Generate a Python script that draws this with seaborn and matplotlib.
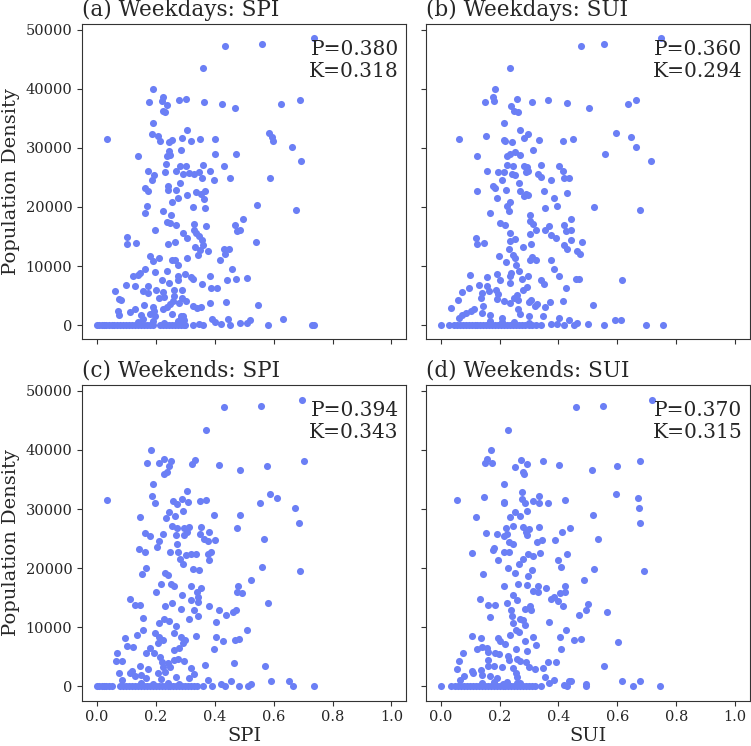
import pandas as pd
import matplotlib
matplotlib.use("Agg")
import matplotlib.pyplot as plt
import seaborn as sns

# points: (index value, population density)
wd_spi = [
    (0.736, 48530), (0.435, 47290), (0.562, 47520), (0.360, 43460), (0.192, 39970), (0.176, 37830),
    (0.224, 38570), (0.220, 37890), (0.238, 37210), (0.225, 36310), (0.232, 36030), (0.280, 38120),
    (0.303, 38280), (0.363, 37720), (0.425, 37500), (0.470, 36710), (0.624, 37380), (0.689, 38120),
    (0.189, 34290), (0.305, 32990), (0.035, 31580), (0.188, 32320), (0.207, 32090), (0.215, 31080),
    (0.246, 30910), (0.256, 31360), (0.288, 31750), (0.320, 31130), (0.350, 31420), (0.400, 31530),
    (0.586, 32490), (0.593, 31810), (0.599, 31080), (0.662, 30230), (0.286, 29670), (0.245, 29390),
    (0.237, 28660), (0.250, 28830), (0.139, 28660), (0.402, 28990), (0.472, 28990), (0.693, 27700),
    (0.236, 27250), (0.281, 26970), (0.304, 26970), (0.360, 27020), (0.431, 26860),
    (0.173, 26010), (0.193, 25450), (0.188, 24490), (0.231, 25840), (0.268, 26010), (0.292, 25500),
    (0.313, 25730), (0.329, 25620), (0.346, 25840), (0.385, 26010), (0.356, 24880), (0.399, 24550),
    (0.451, 24880), (0.588, 24940), (0.165, 23200), (0.174, 22630), (0.241, 23590), (0.241, 22800),
    (0.268, 22910), (0.282, 24040), (0.305, 22070), (0.338, 22460), (0.353, 22240), (0.368, 22630),
    (0.364, 21390), (0.277, 21510), (0.255, 20830), (0.171, 20210), (0.164, 18970), (0.223, 19250),
    (0.251, 18690), (0.327, 19930), (0.368, 19760), (0.544, 20270), (0.675, 19480), (0.238, 17450),
    (0.249, 17280), (0.268, 17000), (0.329, 17120), (0.369, 16780), (0.469, 17000), (0.497, 18020),
    (0.476, 15880), (0.485, 16160), (0.199, 16100), (0.294, 15600), (0.306, 14750), (0.331, 16160),
    (0.338, 15600), (0.348, 15030), (0.356, 14470), (0.104, 14860), (0.103, 13790), (0.133, 13910),
    (0.240, 13680), (0.264, 14130), (0.362, 13510), (0.332, 13170), (0.350, 12780), (0.379, 12610),
    (0.433, 12890), (0.450, 12890), (0.435, 12100), (0.540, 14080), (0.180, 11650), (0.190, 10810),
    (0.210, 11430), (0.256, 11090), (0.266, 10980), (0.275, 10250), (0.305, 11430), (0.342, 11880),
    (0.419, 10980), (0.459, 9570), (0.165, 9510), (0.147, 8780), (0.124, 8280), (0.139, 8560),
    (0.197, 8950), (0.238, 9230), (0.277, 8390), (0.298, 8610), (0.318, 8160), (0.327, 7830),
    (0.221, 7710), (0.246, 7150), (0.275, 7710), (0.385, 8280), (0.358, 7040), (0.443, 7600),
    (0.471, 7830), (0.511, 7940), (0.099, 6870), (0.128, 6700), (0.172, 6590), (0.201, 6020),
    (0.156, 5860), (0.175, 5460), (0.223, 5690), (0.263, 6020), (0.290, 6020), (0.388, 6310),
    (0.408, 6310), (0.063, 5740), (0.075, 4450), (0.081, 4340), (0.211, 4620), (0.229, 4790),
    (0.263, 5010), (0.258, 4170), (0.288, 4620), (0.304, 4170), (0.249, 3660), (0.280, 3770),
    (0.238, 3100), (0.226, 2650), (0.159, 3490), (0.190, 3100), (0.195, 2360), (0.325, 3210),
    (0.339, 2980), (0.353, 3100), (0.385, 3720), (0.440, 3940), (0.546, 3380), (0.071, 2360),
    (0.075, 1690), (0.111, 2200), (0.128, 2650), (0.150, 1800), (0.182, 1970), (0.199, 1520),
    (0.254, 1970), (0.284, 1630), (0.293, 1520), (0.391, 1070), (0.401, 510), (0.446, 1070),
    (0.423, 230), (0.452, 0), (0.486, 390), (0.508, 390), (0.521, 840), (0.580, 0), (0.631, 960),
    (0.729, 0), (0.738, 0), (0.325, 0), (0.348, 230), (0.359, 0), (0.139, 560), (0.156, 960),
    (0.190, 680), (0.229, 390), (0.275, 680), (0.286, 1240), (0.297, 840),
]
wd_spi_zero = [0.0, 0.008, 0.016, 0.024, 0.032, 0.04, 0.05, 0.06, 0.07, 0.08, 0.09, 0.10, 0.11,
               0.12, 0.13, 0.14, 0.15, 0.16, 0.17, 0.18, 0.19, 0.215, 0.225, 0.235, 0.245, 0.255,
               0.265, 0.275, 0.285, 0.295, 0.30]

wd_sui = [
    (0.748, 48530), (0.476, 47290), (0.553, 47520), (0.234, 43460), (0.185, 39970), (0.151, 37830),
    (0.177, 38570), (0.180, 37890), (0.260, 38280), (0.240, 37160), (0.249, 36310), (0.262, 36030),
    (0.311, 37720), (0.365, 38120), (0.428, 37550), (0.505, 36710), (0.635, 37380), (0.664, 38120),
    (0.216, 34290), (0.063, 31580), (0.154, 32090), (0.215, 31360), (0.218, 31080), (0.243, 30910),
    (0.268, 32990), (0.282, 31750), (0.297, 32320), (0.333, 31300), (0.415, 31130), (0.449, 31530),
    (0.595, 32540), (0.647, 31920), (0.662, 30230), (0.313, 29670), (0.122, 28660), (0.226, 28660),
    (0.237, 28990), (0.254, 29330), (0.271, 28830), (0.559, 28990), (0.714, 27700), (0.224, 27140),
    (0.245, 26970), (0.282, 26970), (0.294, 26740), (0.341, 27020), (0.403, 26860),
    (0.157, 26010), (0.194, 25840), (0.215, 25840), (0.243, 25500), (0.254, 25340), (0.290, 25840),
    (0.296, 26120), (0.330, 25620), (0.342, 25000), (0.373, 24490), (0.415, 26010), (0.420, 24940),
    (0.435, 24880), (0.125, 22750), (0.179, 23590), (0.184, 23200), (0.223, 22910), (0.207, 24490),
    (0.266, 24040), (0.271, 22750), (0.282, 21790), (0.290, 22240), (0.296, 22070), (0.350, 22630),
    (0.384, 21450), (0.428, 22350), (0.192, 21510), (0.234, 20770), (0.226, 20100), (0.232, 19250),
    (0.166, 18970), (0.355, 19760), (0.395, 20210), (0.520, 19990), (0.678, 19480), (0.200, 17280),
    (0.218, 16890), (0.304, 18690), (0.305, 17570), (0.312, 17120), (0.323, 16160), (0.236, 15600),
    (0.303, 15370), (0.355, 16160), (0.368, 16720), (0.418, 17000), (0.427, 15880), (0.443, 16160),
    (0.443, 18020), (0.120, 14810), (0.124, 13740), (0.147, 13910), (0.236, 14190), (0.252, 14640),
    (0.232, 12950), (0.280, 13170), (0.308, 13680), (0.375, 15200), (0.391, 14810), (0.418, 13620),
    (0.429, 12890), (0.444, 14470), (0.479, 14080), (0.463, 12610), (0.473, 12100), (0.199, 11770),
    (0.221, 10640), (0.246, 11940), (0.252, 11370), (0.302, 11090), (0.311, 11540), (0.323, 11090),
    (0.373, 10980), (0.386, 9570), (0.401, 8280), (0.099, 8560), (0.159, 8160), (0.191, 8670),
    (0.200, 7710), (0.234, 8280), (0.234, 7150), (0.240, 8840), (0.255, 10250), (0.266, 9230),
    (0.276, 7830), (0.297, 8390), (0.340, 7710), (0.351, 7040), (0.425, 6310), (0.460, 7880),
    (0.469, 7880), (0.616, 7600), (0.129, 6870), (0.139, 5460), (0.158, 6590), (0.163, 5860),
    (0.189, 6020), (0.096, 6310), (0.073, 5690), (0.058, 4340), (0.034, 2980), (0.137, 4620),
    (0.190, 4500), (0.195, 5290), (0.215, 4050), (0.237, 3770), (0.249, 4620), (0.258, 5180),
    (0.262, 4220), (0.279, 6020), (0.294, 6420), (0.306, 4340), (0.301, 3880), (0.319, 3210),
    (0.328, 3660), (0.354, 3040), (0.372, 3940), (0.414, 4170), (0.518, 3430), (0.145, 3320),
    (0.142, 2080), (0.113, 2650), (0.102, 2360), (0.085, 2080), (0.073, 1690), (0.062, 1130),
    (0.169, 1690), (0.209, 1130), (0.261, 2650), (0.271, 1970), (0.299, 1520), (0.349, 1630),
    (0.401, 1130), (0.436, 840), (0.462, 390), (0.501, 280), (0.592, 840), (0.611, 900),
    (0.554, 0), (0.696, 0), (0.754, 0), (0.373, 280), (0.395, 280), (0.420, 0), (0.452, 0),
    (0.169, 680), (0.209, 560), (0.250, 450), (0.300, 340),
]
wd_sui_zero = [0.0, 0.03, 0.045, 0.055, 0.065, 0.075, 0.085, 0.095, 0.105, 0.115, 0.125, 0.135,
               0.145, 0.155, 0.165, 0.175, 0.185, 0.195, 0.205, 0.215, 0.225, 0.235, 0.245, 0.255,
               0.265, 0.275, 0.285, 0.30, 0.31, 0.325, 0.34]

we_spi = [
    (0.698, 48470), (0.432, 47290), (0.558, 47460), (0.372, 43410), (0.183, 39970), (0.169, 37830),
    (0.211, 37830), (0.227, 38510), (0.246, 37210), (0.253, 38120), (0.227, 35980), (0.237, 36260),
    (0.323, 37660), (0.334, 38230), (0.414, 37500), (0.486, 36650), (0.577, 37330), (0.702, 38060),
    (0.190, 34230), (0.306, 32990), (0.034, 31580), (0.188, 32200), (0.197, 31020), (0.259, 31360),
    (0.272, 30910), (0.288, 31750), (0.311, 31130), (0.350, 31300), (0.372, 31470), (0.554, 31080),
    (0.588, 32490), (0.611, 31870), (0.673, 30230), (0.686, 27700), (0.146, 28600), (0.236, 28540),
    (0.246, 29500), (0.264, 28770), (0.292, 29670), (0.398, 28940), (0.485, 28940), (0.475, 26800),
    (0.255, 27140), (0.271, 26800), (0.297, 26860), (0.312, 26910), (0.354, 26970), (0.164, 25950),
    (0.180, 25390), (0.226, 25840), (0.270, 25560), (0.297, 25670), (0.305, 26120), (0.349, 25840),
    (0.363, 25000), (0.382, 26120), (0.376, 24600), (0.402, 24830), (0.567, 24880), (0.211, 24550),
    (0.203, 23590), (0.273, 24100), (0.142, 23310),
    (0.165, 22750), (0.249, 22750), (0.275, 22750), (0.303, 22180), (0.321, 22350), (0.337, 22460),
    (0.376, 22350), (0.389, 22750), (0.282, 21620), (0.382, 21340), (0.293, 20770), (0.155, 18970),
    (0.168, 20040), (0.231, 19200), (0.243, 18800), (0.327, 19930), (0.347, 19650), (0.562, 20210),
    (0.688, 19480), (0.253, 17400), (0.261, 16950), (0.218, 17400), (0.202, 16050), (0.289, 15540),
    (0.321, 17060), (0.353, 16720), (0.340, 15990), (0.479, 16950), (0.477, 15990), (0.494, 15820),
    (0.522, 17960), (0.112, 14750), (0.128, 13740), (0.148, 13850), (0.233, 13680), (0.254, 14130),
    (0.320, 14690), (0.342, 15140), (0.345, 14300), (0.285, 13060), (0.331, 12890), (0.342, 11940),
    (0.381, 13570), (0.416, 12840), (0.437, 12050), (0.461, 12550), (0.472, 12890), (0.582, 14080),
    (0.158, 11650), (0.212, 10750), (0.227, 11370), (0.244, 10980), (0.269, 10190), (0.313, 11430),
    (0.405, 10920), (0.508, 9510), (0.096, 8110), (0.137, 8610), (0.158, 9510), (0.197, 8950),
    (0.212, 8280), (0.226, 7830), (0.263, 9060), (0.286, 8390), (0.298, 7830), (0.337, 8500),
    (0.406, 8280), (0.429, 7660), (0.468, 7830), (0.481, 7940), (0.103, 6810), (0.124, 6640),
    (0.179, 6530), (0.207, 7260), (0.261, 6140), (0.280, 6420), (0.292, 7260), (0.397, 6250),
    (0.068, 5690), (0.066, 4280), (0.085, 4280), (0.168, 5690), (0.193, 5570), (0.215, 4900),
    (0.221, 4170), (0.241, 3880), (0.263, 4450), (0.277, 4560), (0.297, 4340), (0.466, 3940),
    (0.571, 3380), (0.146, 3380), (0.121, 2650), (0.175, 2870), (0.225, 3320), (0.231, 2480),
    (0.247, 3210), (0.320, 3040), (0.367, 3600), (0.076, 2310), (0.084, 1070), (0.114, 2200),
    (0.130, 1750), (0.150, 1910), (0.167, 1350), (0.207, 2200), (0.217, 1180), (0.269, 1630),
    (0.314, 1350), (0.329, 2030), (0.376, 1070), (0.454, 900), (0.590, 840), (0.652, 960),
    (0.666, 0), (0.738, 0), (0.481, 0), (0.512, 0), (0.523, 390), (0.421, 340), (0.435, 0),
    (0.150, 560), (0.190, 450), (0.240, 620), (0.280, 340),
]
we_spi_zero = [0.0, 0.008, 0.016, 0.024, 0.032, 0.04, 0.05, 0.08, 0.09, 0.10, 0.11, 0.12, 0.13,
               0.14, 0.15, 0.16, 0.17, 0.18, 0.19, 0.20, 0.21, 0.22, 0.23, 0.24, 0.25, 0.26, 0.27,
               0.28, 0.29, 0.30, 0.31, 0.32, 0.33, 0.34, 0.36, 0.39]

we_sui = [
    (0.718, 48470), (0.461, 47290), (0.550, 47460), (0.228, 43410), (0.171, 39970), (0.158, 38510),
    (0.151, 37830), (0.175, 37830), (0.273, 38230), (0.292, 37660), (0.252, 37160), (0.280, 36260),
    (0.284, 35980), (0.349, 38060), (0.402, 37500), (0.513, 36650), (0.597, 37330), (0.675, 38060),
    (0.215, 34230), (0.056, 31580), (0.147, 32090), (0.214, 31190), (0.216, 31020), (0.276, 32930),
    (0.277, 31750), (0.288, 31020), (0.312, 31360), (0.294, 29670), (0.333, 32260), (0.334, 31020),
    (0.363, 31080), (0.421, 31470), (0.595, 32490), (0.670, 31870), (0.672, 30230), (0.675, 27700),
    (0.119, 28600), (0.237, 28600), (0.254, 29440), (0.268, 28880), (0.244, 27080), (0.221, 26860),
    (0.278, 26910), (0.289, 26120), (0.301, 26630), (0.294, 25560), (0.333, 26970), (0.155, 25950),
    (0.193, 25790), (0.226, 25730), (0.215, 25390), (0.231, 24430), (0.247, 24150), (0.328, 24490),
    (0.345, 24830), (0.389, 24830), (0.411, 26120), (0.440, 26800), (0.516, 28940), (0.533, 24880),
    (0.181, 23480), (0.177, 23140),
    (0.108, 22580), (0.215, 22750), (0.233, 22750), (0.297, 22460), (0.315, 22010), (0.337, 22580),
    (0.429, 22350), (0.194, 21450), (0.227, 20100), (0.254, 19250), (0.267, 20770), (0.278, 21620),
    (0.295, 18630), (0.310, 19760), (0.399, 21450), (0.408, 20210), (0.522, 19870), (0.689, 19480),
    (0.145, 18970), (0.215, 16950), (0.264, 17400), (0.292, 17230), (0.330, 16950), (0.314, 16100),
    (0.330, 15990), (0.358, 16720), (0.405, 15820), (0.421, 16950), (0.421, 16050), (0.485, 17960),
    (0.132, 14750), (0.162, 13740), (0.183, 13790), (0.224, 14130), (0.245, 15540), (0.258, 14690),
    (0.238, 12890), (0.243, 11940), (0.288, 13170), (0.302, 13570), (0.307, 12890), (0.373, 14860),
    (0.386, 15140), (0.397, 14410), (0.416, 13570), (0.499, 14020), (0.493, 12890), (0.471, 12050),
    (0.563, 12610), (0.169, 11710), (0.245, 10640), (0.268, 11370), (0.278, 11200), (0.286, 10360),
    (0.255, 9510), (0.266, 9120), (0.367, 10920), (0.426, 9570), (0.105, 8560), (0.138, 8110),
    (0.195, 8110), (0.203, 7660), (0.234, 8670), (0.218, 7090), (0.286, 7660), (0.315, 8280),
    (0.322, 6980), (0.294, 5970), (0.255, 6310), (0.405, 8280), (0.451, 7830), (0.477, 7940),
    (0.602, 7540), (0.076, 5690), (0.062, 4280), (0.056, 2930), (0.123, 6310), (0.139, 6700),
    (0.156, 6420), (0.160, 5860), (0.183, 5690), (0.198, 5460), (0.229, 5120), (0.232, 4450),
    (0.162, 4450), (0.162, 3430), (0.182, 3490), (0.207, 3320), (0.260, 4670), (0.271, 4280),
    (0.289, 4170), (0.299, 3210), (0.321, 2930), (0.346, 3040), (0.366, 4050), (0.390, 4170),
    (0.408, 6310), (0.554, 3380), (0.246, 3040), (0.255, 2200), (0.260, 1630), (0.108, 2590),
    (0.111, 2200), (0.079, 1750), (0.066, 1070), (0.138, 2760), (0.139, 1910), (0.169, 1750),
    (0.190, 1350), (0.226, 790), (0.258, 620), (0.355, 1630), (0.369, 510), (0.386, 1070),
    (0.436, 960), (0.443, 900), (0.615, 960), (0.676, 840), (0.420, 280), (0.429, 110),
    (0.493, 390), (0.493, 0), (0.653, 0), (0.744, 0), (0.140, 560), (0.180, 680), (0.210, 450),
    (0.270, 560),
]
we_sui_zero = [0.0, 0.034, 0.05, 0.06, 0.07, 0.08, 0.09, 0.10, 0.11, 0.12, 0.13, 0.14, 0.15,
               0.16, 0.17, 0.18, 0.19, 0.20, 0.21, 0.22, 0.23, 0.24, 0.25, 0.26, 0.27, 0.28, 0.29,
               0.30, 0.31, 0.32, 0.34]

titles = ["(a) Weekdays: SPI", "(b) Weekdays: SUI", "(c) Weekends: SPI", "(d) Weekends: SUI"]
stats = ["P=0.380\nK=0.318", "P=0.360\nK=0.294", "P=0.394\nK=0.343", "P=0.370\nK=0.315"]
xlabels = ["", "", "SPI", "SUI"]

sns.set_style("ticks")
plt.rcParams["font.family"] = ["DejaVu Serif"]

panels = [(wd_spi, wd_spi_zero), (wd_sui, wd_sui_zero), (we_spi, we_spi_zero), (we_sui, we_sui_zero)]

fig, axes = plt.subplots(2, 2, figsize=(7.51, 7.46), dpi=100, sharex=True, sharey=True)
plt.subplots_adjust(left=0.1093, right=0.9987, top=0.9678, bottom=0.0607, wspace=0.0607, hspace=0.145)

for i, ax in enumerate(axes.flat):
    pts, zero = panels[i]
    df = pd.DataFrame(pts + [(v, 0) for v in zero], columns=["x", "y"])
    sns.scatterplot(data=df, x="x", y="y", ax=ax, color="#6b7ff5", s=26, linewidth=0)
    ax.set_title(titles[i], loc="left", fontsize=15.5)
    ax.text(0.977, 0.95, stats[i], transform=ax.transAxes, ha="right", va="top", fontsize=14.5)
    ax.set_xlabel(xlabels[i], fontsize=14, labelpad=2)
    ax.set_ylabel("Population Density" if i % 2 == 0 else "", fontsize=14)
    ax.tick_params(labelsize=10.5, length=3.5, width=0.8, color="#333333")
    for sp in ax.spines.values():
        sp.set_linewidth(0.8)
        sp.set_color("#333333")

axes[0, 0].set_xlim(-0.05, 1.05)
axes[0, 0].set_xticks([0.0, 0.2, 0.4, 0.6, 0.8, 1.0])
axes[0, 0].set_yticks([0, 10000, 20000, 30000, 40000, 50000])

plt.savefig("out.png", dpi=100)
